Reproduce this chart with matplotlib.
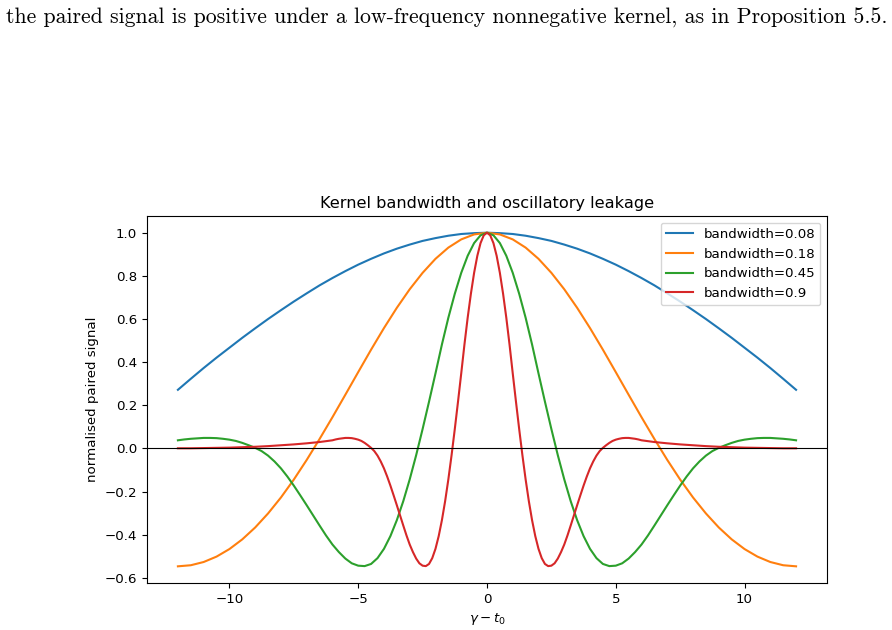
import numpy as np
import matplotlib
matplotlib.use('Agg')
import matplotlib.pyplot as plt

# bandwidths shown in the legend
bandwidths = [0.08, 0.18, 0.45, 0.9]
colors = ['#1f77b4', '#ff7f0e', '#2ca02c', '#d62728']

# values for x >= 0 (the curves are symmetric about 0)
x_blue = [0, 0.5, 1, 1.5, 2, 2.5, 3, 3.5, 4, 4.5, 5, 5.5, 6, 6.5, 7, 7.5,
          8, 8.5, 9, 9.5, 10, 10.5, 11, 11.5, 12]
y_blue = [1.000, 0.998, 0.994, 0.986, 0.975, 0.962, 0.945, 0.926, 0.904,
          0.879, 0.852, 0.822, 0.790, 0.756, 0.719, 0.681, 0.641, 0.600,
          0.557, 0.513, 0.467, 0.421, 0.373, 0.323, 0.272]

x_orange = [0, 0.5, 1, 1.5, 2, 2.5, 3, 3.5, 4, 4.5, 5, 5.5, 6, 6.5, 7, 7.5,
            8, 8.5, 9, 9.5, 10, 10.5, 11, 11.5, 12]
y_orange = [1.000, 0.992, 0.969, 0.931, 0.879, 0.814, 0.738, 0.652, 0.558,
            0.458, 0.354, 0.249, 0.145, 0.044, -0.053, -0.144, -0.227, -0.301,
            -0.366, -0.421, -0.466, -0.501, -0.526, -0.541, -0.546]

x_green = [0, 0.25, 0.5, 0.75, 1, 1.25, 1.5, 1.75, 2, 2.25, 2.5, 2.75, 3,
           3.25, 3.5, 3.75, 4, 4.25, 4.5, 4.75, 5, 5.25, 5.5, 5.75, 6, 6.25,
           6.5, 6.75, 7, 7.25, 7.5, 7.75, 8, 8.25, 8.5, 8.75, 9, 9.25, 9.5,
           9.75, 10, 10.25, 10.5, 10.75, 11, 11.25, 11.5, 11.75, 12]
y_green = [1.000, 0.988, 0.952, 0.893, 0.814, 0.717, 0.606, 0.482, 0.348,
           0.217, 0.090, -0.031, -0.143, -0.244, -0.332, -0.406, -0.465,
           -0.508, -0.535, -0.545, -0.543, -0.532, -0.510, -0.480, -0.445,
           -0.403, -0.357, -0.310, -0.263, -0.217, -0.172, -0.130, -0.092,
           -0.060, -0.033, -0.012, 0.003, 0.015, 0.026, 0.035, 0.041, 0.045,
           0.048, 0.049, 0.049, 0.047, 0.045, 0.042, 0.038]

x_red = [0, 0.125, 0.25, 0.375, 0.5, 0.625, 0.75, 0.875, 1, 1.125, 1.25,
         1.375, 1.5, 1.625, 1.75, 1.875, 2, 2.125, 2.25, 2.375, 2.5, 2.625,
         2.75, 2.875, 3, 3.125, 3.25, 3.375, 3.5, 3.625, 3.75, 3.875, 4,
         4.125, 4.25, 4.375, 4.5, 4.625, 4.75, 4.875, 5, 5.125, 5.25, 5.375,
         5.5, 5.625, 5.75, 5.875, 6, 6.5, 7, 7.5, 8, 8.5, 9, 9.5, 10, 10.5,
         11, 11.5, 12]
y_red = [1.000, 0.988, 0.952, 0.893, 0.814, 0.717, 0.606, 0.482, 0.348,
         0.217, 0.090, -0.031, -0.143, -0.244, -0.332, -0.406, -0.465,
         -0.508, -0.535, -0.545, -0.543, -0.532, -0.510, -0.480, -0.445,
         -0.403, -0.357, -0.310, -0.263, -0.217, -0.172, -0.130, -0.092,
         -0.060, -0.033, -0.012, 0.003, 0.015, 0.026, 0.035, 0.041, 0.045,
         0.048, 0.049, 0.049, 0.047, 0.045, 0.042, 0.038, 0.030, 0.024,
         0.019, 0.015, 0.011, 0.008, 0.006, 0.004, 0.003, 0.002, 0.001, 0.001]

series = [(x_blue, y_blue), (x_orange, y_orange), (x_green, y_green), (x_red, y_red)]


def mirror(xs, ys):
    xs = np.asarray(xs, dtype=float)
    ys = np.asarray(ys, dtype=float)
    return (np.concatenate([-xs[::-1], xs[1:]]),
            np.concatenate([ys[::-1], ys[1:]]))


plt.rcParams.update({'font.size': 9.6})

fig = plt.figure(figsize=(8.92, 6.3), dpi=100)
ax = fig.add_axes([0.1648, 0.0746, 0.7623, 0.5825])

for (xs, ys), bw, c in zip(series, bandwidths, colors):
    xx, yy = mirror(xs, ys)
    ax.plot(xx, yy, color=c, lw=1.5, label='bandwidth=%g' % bw)

ax.axhline(0, color='black', lw=0.8)
ax.set_title('Kernel bandwidth and oscillatory leakage', fontsize=11.6)
ax.set_xlabel(r'$\gamma - t_0$')
ax.set_ylabel('normalised paired signal')
ax.legend(loc='upper right')

fig.text(0.007, 0.972,
         'the paired signal is positive under a low-frequency nonnegative kernel, as in Proposition 5.5.',
         family='cmr10', fontsize=15.7, va='center', ha='left')

fig.savefig('out.png', dpi=100)
